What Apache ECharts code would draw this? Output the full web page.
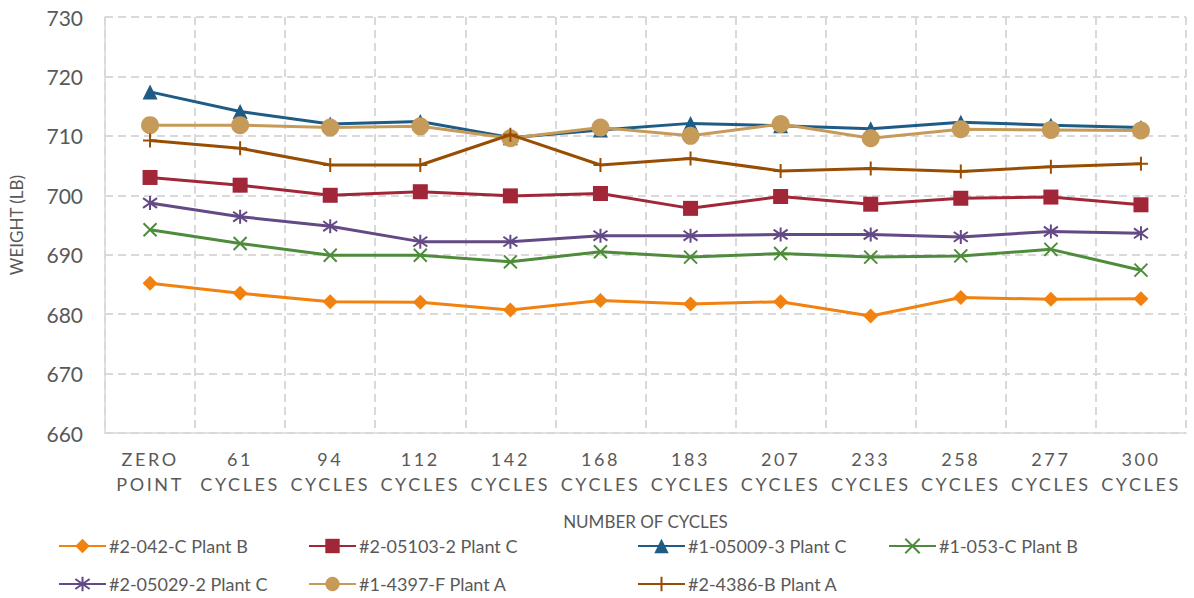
<!DOCTYPE html>
<html>
<head>
<meta charset="utf-8">
<script src="https://cdn.jsdelivr.net/npm/echarts@6/dist/echarts.min.js"></script>
<style>
  html, body { margin: 0; padding: 0; background: #ffffff; }
  #chart { width: 1194px; height: 598px; }
  #chart svg text[style*="DejaVu"] { letter-spacing: 2.6px; }
</style>
</head>
<body>
<div id="chart"></div>
<script>
const categories = ['ZERO\nPOINT', '61\nCYCLES', '94\nCYCLES', '112\nCYCLES', '142\nCYCLES', '168\nCYCLES', '183\nCYCLES', '207\nCYCLES', '233\nCYCLES', '258\nCYCLES', '277\nCYCLES', '300\nCYCLES'];

const seriesNames = ['#2-042-C Plant B', '#2-05103-2 Plant C', '#1-05009-3 Plant C', '#1-053-C Plant B', '#2-05029-2 Plant C', '#1-4397-F Plant A', '#2-4386-B Plant A'];

const s042C = [685.2, 683.5, 682.1, 682.0, 680.7, 682.3, 681.7, 682.1, 679.7, 682.8, 682.5, 682.6];
const s05103 = [703.0, 701.7, 700.0, 700.6, 699.9, 700.3, 697.8, 699.8, 698.5, 699.5, 699.7, 698.4];
const s05009 = [717.4, 714.1, 712.0, 712.4, 709.7, 711.0, 712.1, 711.7, 711.2, 712.3, 711.8, 711.4];
const s053C = [694.2, 691.9, 689.9, 689.9, 688.8, 690.5, 689.6, 690.2, 689.6, 689.8, 690.9, 687.4];
const s05029 = [698.7, 696.4, 694.8, 692.2, 692.2, 693.2, 693.2, 693.4, 693.4, 693.0, 693.9, 693.6];
const s4397F = [711.8, 711.8, 711.4, 711.6, 709.6, 711.4, 710.0, 712.0, 709.6, 711.1, 711.0, 710.9];
const s4386B = [709.2, 707.9, 705.1, 705.1, 710.2, 705.1, 706.2, 704.1, 704.5, 704.0, 704.8, 705.3];

const yTicks = { min: 660, max: 730, interval: 10 };

const seriesData = [s042C, s05103, s05009, s053C, s05029, s4397F, s4386B];
const colors = ['#F2820F', '#A12638', '#1E5C86', '#4E8C3C', '#634985', '#C69B5A', '#984E02'];
const symbols = [
  'diamond',
  'rect',
  'triangle',
  'path://M0,0 L10,10 M10,0 L0,10',
  'path://M5,0 L5,10 M0,1.5 L10,8.5 M10,1.5 L0,8.5',
  'circle',
  'path://M5,0 L5,10 M0,5 L10,5'
];
const symbolSizes = [15, 15, 15, 13, 14, 18, 14];
const strokeSymbols = [false, false, false, true, true, false, true];

const FONT = 'Lato';
const GRAY = '#595959';

const chart = echarts.init(document.getElementById('chart'), null, { renderer: 'svg' });

const series = seriesNames.map((name, i) => ({
  name: name,
  type: 'line',
  data: seriesData[i],
  symbol: symbols[i],
  symbolSize: symbolSizes[i],
  showAllSymbol: true,
  lineStyle: { color: colors[i], width: 3 },
  itemStyle: strokeSymbols[i]
    ? { color: colors[i], borderColor: colors[i], borderWidth: 2 }
    : { color: colors[i], borderWidth: 0 },
  emphasis: { disabled: true },
  animation: false,
  z: 2 + i
}));

const legendPos = [
  { left: 58, top: 537 }, { left: 308, top: 537 }, { left: 637, top: 537 }, { left: 888, top: 537 },
  { left: 58, top: 575 }, { left: 308, top: 575 }, { left: 637, top: 575 }
];

const legends = seriesNames.map((name, i) => ({
  data: [name],
  left: legendPos[i].left,
  top: legendPos[i].top,
  padding: 0,
  itemWidth: 47,
  itemHeight: 18,
  itemGap: 0,
  selectedMode: false,
  textStyle: { fontFamily: FONT, fontSize: 18, color: GRAY, padding: [0, 0, 0, -2] }
}));

chart.setOption({
  backgroundColor: '#ffffff',
  animation: false,
  grid: { left: 100, right: 8, top: 17, bottom: 165, containLabel: false },
  legend: legends,
  xAxis: {
    type: 'category',
    data: categories,
    boundaryGap: true,
    name: 'NUMBER OF CYCLES',
    nameLocation: 'middle',
    nameGap: 80,
    nameTextStyle: { fontFamily: FONT, fontSize: 17, color: GRAY },
    axisLine: { show: true, lineStyle: { color: '#D9D9D9', width: 1.5 } },
    axisTick: { show: false },
    axisLabel: {
      interval: 0,
      margin: 13,
      fontFamily: "Lato, 'DejaVu Sans'",
      fontSize: 18,
      lineHeight: 25,
      color: GRAY
    },
    splitLine: { show: true, interval: 0, lineStyle: { color: '#D9D9D9', width: 2, type: [8, 5] } }
  },
  yAxis: {
    type: 'value',
    min: yTicks.min,
    max: yTicks.max,
    interval: yTicks.interval,
    name: 'WEIGHT (LB)',
    nameLocation: 'middle',
    nameGap: 80,
    nameTextStyle: { fontFamily: FONT, fontSize: 17, color: GRAY },
    axisLine: { show: true, lineStyle: { color: '#D9D9D9', width: 1.5 } },
    axisTick: { show: false },
    axisLabel: { margin: 22, fontFamily: FONT, fontSize: 21, color: GRAY },
    splitLine: { show: true, lineStyle: { color: '#D9D9D9', width: 2, type: [8, 5] } }
  },
  series: series
});
</script>
</body>
</html>
